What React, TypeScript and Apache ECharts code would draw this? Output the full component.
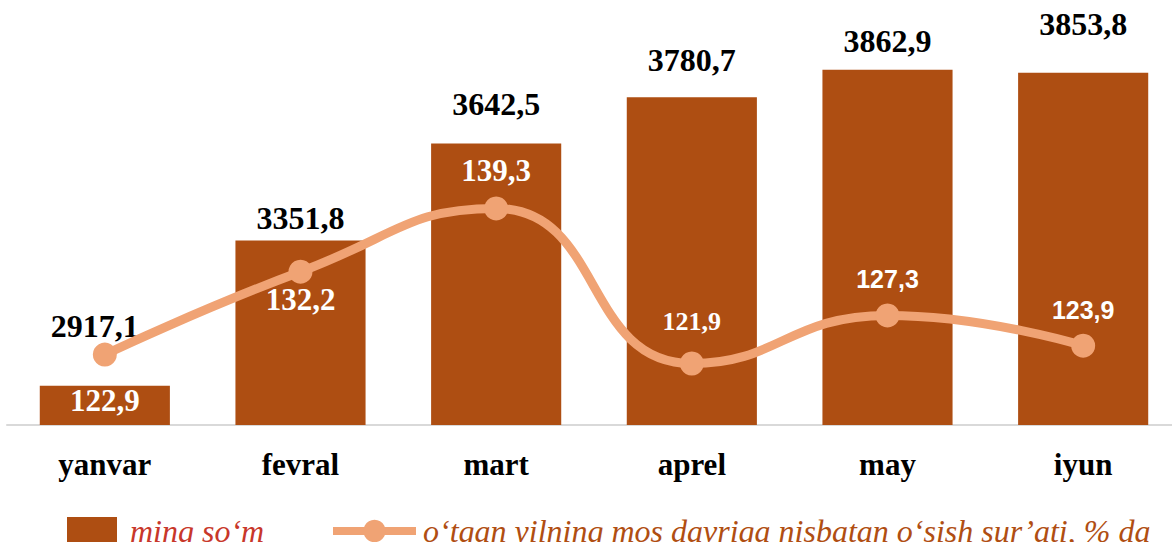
import React, { useEffect, useRef } from "react";
import * as echarts from "echarts";

const categories = ["yanvar", "fevral", "mart", "aprel", "may", "iyun"];
const amounts = [2917.1, 3351.8, 3642.5, 3780.7, 3862.9, 3853.8];
const growth = [122.9, 132.2, 139.3, 121.9, 127.3, 123.9];
const amountLabelOffsets = [[-10, -39], [0, -2], [0, -18], [0, -16], [0, -8], [0, -28]];
const growthLabelSpecs = [
  { position: "bottom", dist: 18, serif: true, size: 31 },
  { position: "bottom", dist: 0, serif: true, size: 31 },
  { position: "top", dist: 10, serif: true, size: 31 },
  { position: "top", dist: 17, serif: true, size: 26 },
  { position: "top", dist: 12, serif: false, size: 25 },
  { position: "top", dist: 11, serif: false, size: 25 },
];
const legendNames = ["ming so‘m", "o‘tgan yilning mos davriga nisbatan o‘sish sur’ati, % da"];

const BAR = "#AE4E12";
const LINE = "#F0A374";

export default function App() {
  const ref = useRef<HTMLDivElement>(null);
  useEffect(() => {
    document.documentElement.style.overflow = "hidden";
    document.body.style.overflow = "hidden";
    const chart = echarts.init(ref.current!, null, { renderer: "svg" });
    const fmt = (v: number) => v.toFixed(1).replace(".", ",");
    const legendText = { fontFamily: "Liberation Serif", fontStyle: "italic", fontSize: 32 };
    chart.setOption({
      animation: false,
      grid: { left: 7, right: 9, top: 24, bottom: 117, containLabel: false },
      legend: [
        {
          left: 62,
          top: 510,
          itemWidth: 50,
          itemHeight: 28,
          data: [{ name: legendNames[0], icon: "rect" }],
          textStyle: { ...legendText, color: "#C8372A", padding: [0, 0, 5, 8] },
        },
        {
          left: 324,
          top: 510,
          itemWidth: 83,
          itemHeight: 28,
          data: [{ name: legendNames[1], lineStyle: { width: 8, color: LINE }, itemStyle: { color: LINE } }],
          textStyle: { ...legendText, color: "#B04E12", padding: [0, 0, 5, 2] },
        },
      ],
      xAxis: {
        type: "category",
        data: categories,
        axisLine: { lineStyle: { color: "#D9D9D9", width: 2 } },
        axisTick: { show: false },
        axisLabel: {
          color: "#000",
          fontFamily: "Liberation Serif",
          fontWeight: "bold",
          fontSize: 31,
          margin: 24,
        },
      },
      yAxis: [
        { type: "value", min: 2800, max: 4000, show: false, splitLine: { show: false } },
        { type: "value", min: 115, max: 160, show: false, splitLine: { show: false } },
      ],
      series: [
        {
          name: legendNames[0],
          type: "bar",
          yAxisIndex: 0,
          barWidth: "66.5%",
          itemStyle: { color: BAR },
          data: amounts.map((v, i) => ({
            value: v,
            label: { offset: amountLabelOffsets[i] },
          })),
          label: {
            show: true,
            position: "top",
            distance: 5,
            color: "#000",
            fontFamily: "Liberation Serif",
            fontWeight: "bold",
            fontSize: 32,
            formatter: (p: any) => fmt(p.value),
          },
        },
        {
          name: legendNames[1],
          type: "line",
          yAxisIndex: 1,
          smooth: 0.5,
          symbol: "circle",
          symbolSize: 24,
          lineStyle: { color: LINE, width: 9 },
          itemStyle: { color: LINE },
          data: growth.map((v, i) => {
            const s = growthLabelSpecs[i];
            return {
              value: v,
              label: {
                position: s.position,
                distance: s.dist,
                fontFamily: s.serif ? "Liberation Serif" : "Liberation Sans",
                fontSize: s.size,
              },
            };
          }),
          label: {
            show: true,
            color: "#fff",
            fontWeight: "bold",
            formatter: (p: any) => fmt(p.value),
          },
        },
      ],
    });
    return () => chart.dispose();
  }, []);
  return <div ref={ref} style={{ position: "absolute", left: 0, top: 0, width: 1190, height: 542 }} />;
}
